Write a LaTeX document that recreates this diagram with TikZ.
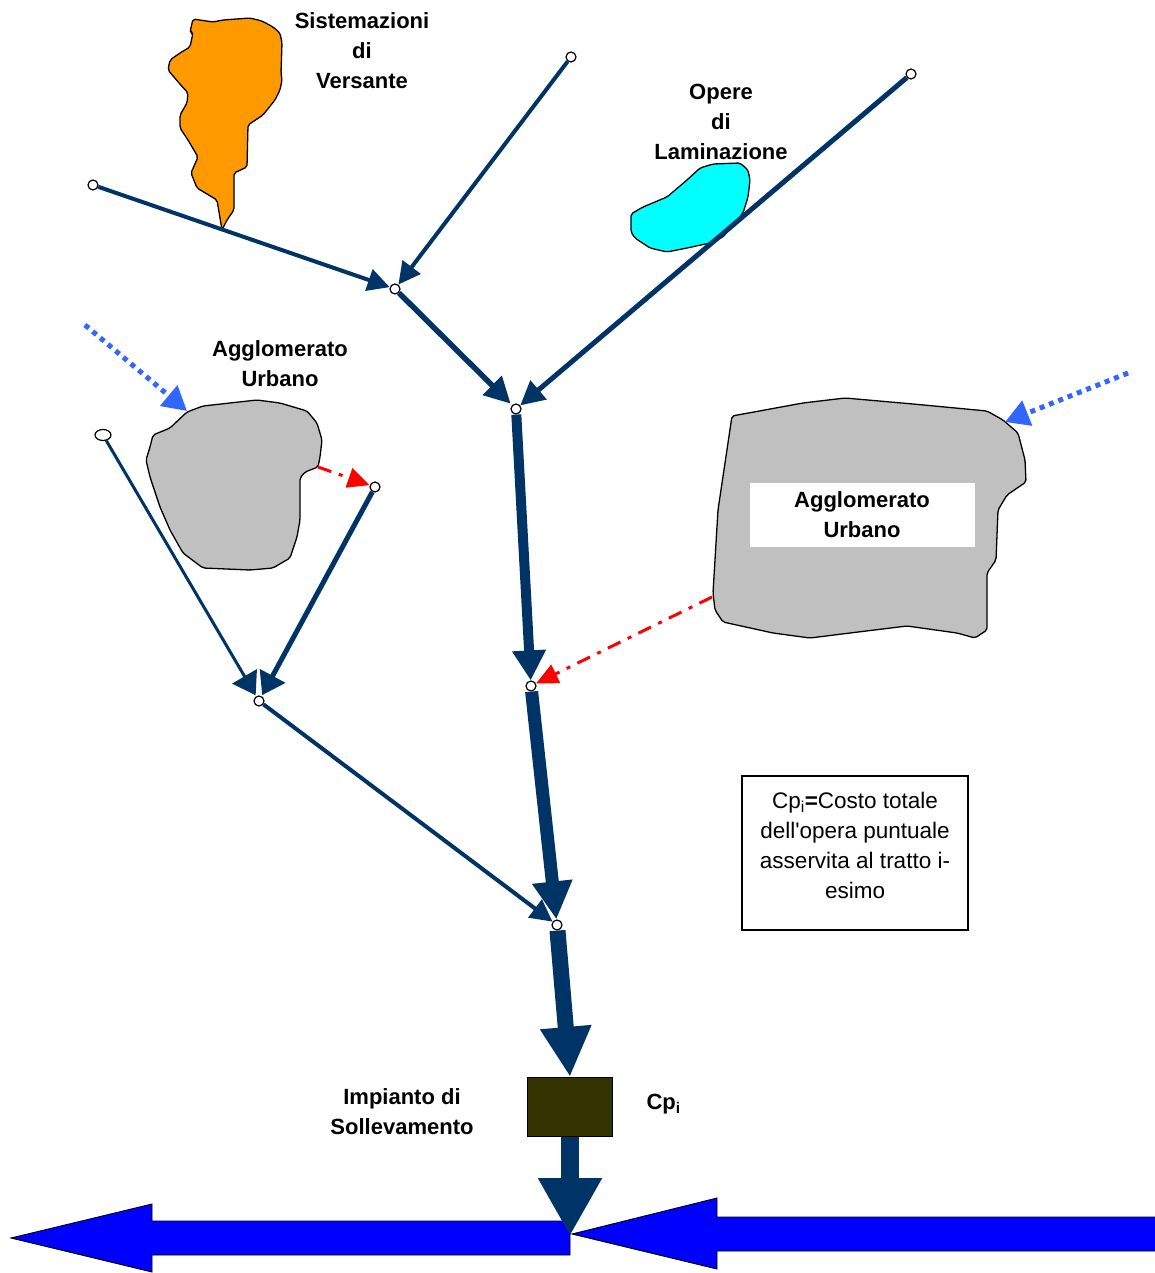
\documentclass[tikz,border=0pt]{standalone}
\usepackage{fontspec}
\setmainfont{Liberation Sans}
\usetikzlibrary{arrows.meta,shapes.geometric}
\definecolor{navy}{RGB}{0,51,102}
\definecolor{orangeF}{RGB}{255,153,0}
\definecolor{cyanF}{RGB}{0,255,255}
\definecolor{grayF}{RGB}{192,192,192}
\definecolor{pumpF}{RGB}{51,51,0}
\definecolor{dotblue}{RGB}{51,102,255}
\definecolor{riverblue}{RGB}{0,0,255}
\newcommand{\straightquote}{\XeTeXglyph\XeTeXcharglyph"0027\relax}
\begin{document}
\begin{tikzpicture}[x=1pt,y=-1pt,
  jn/.style={circle,draw=black,fill=white,line width=1.2pt,inner sep=0pt,minimum size=10pt},
  flow/.style={draw=navy,line width=#1},
  tipA/.style={-{Triangle[length=#1,width=#1]}},
  blob/.style={draw=black,line width=1.3pt,rounded corners=2pt},
  lbl/.style={font=\bfseries\fontsize{22}{30}\selectfont,align=center},
  txt/.style={font=\fontsize{22.5}{30}\selectfont,align=center},
  redline/.style={draw=red,line width=3pt,dash pattern=on 14pt off 8pt on 4pt off 8pt,-{Triangle[length=22pt,width=20pt]}},
  dotline/.style={draw=dotblue,line width=5pt,dash pattern=on 5pt off 5pt,-{Triangle[length=24pt,width=26pt]}},
  river/.style={draw=black,line width=0.9pt,fill=riverblue}
]
\useasboundingbox (0,0) rectangle (1154,1273);

% ---- shapes ----
% orange
\path[blob,fill=orangeF] (193,19) -- (213,22) -- (223,20) -- (250,18) -- (262,21) -- (273,27) -- (280,33) -- (282,43) -- (281,73) -- (282,80) -- (280,90) -- (275,100) -- (263,115) -- (248,125) -- (247,167) -- (234,173) -- (234,210) -- (227,220) -- (222,230) -- (217,200) -- (197,188) -- (191,173) -- (198,157) -- (188,140) -- (180,128) -- (180,115) -- (187,103) -- (188,93) -- (179,83) -- (168,70) -- (170,60) -- (180,53) -- (190,47) -- (193,33) -- (190,32) -- cycle;
% cyan
\path[blob,fill=cyanF] (631,214) -- (643,207) -- (667,197) -- (687,180) -- (700,168) -- (713,164) -- (740,163) -- (748,170) -- (750,180) -- (748,197) -- (743,213) -- (733,225) -- (723,237) -- (710,243) -- (687,248) -- (667,252) -- (650,248) -- (635,238) -- (631,232) -- cycle;
% left gray
\path[blob,fill=grayF] (153,435) -- (170,428) -- (187,412) -- (203,406) -- (230,403) -- (257,400) -- (280,403) -- (307,411) -- (317,423) -- (322,440) -- (320,457) -- (318,467) -- (305,472) -- (300,478) -- (300,520) -- (297,537) -- (290,558) -- (273,568) -- (250,570) -- (203,568) -- (183,553) -- (170,530) -- (160,507) -- (150,477) -- (146,460) -- (150,447) -- cycle;
% right gray
\path[blob,fill=grayF] (732,416) -- (803,403) -- (845,398) -- (913,404) -- (987,411) -- (1003,420) -- (1018,433) -- (1025,460) -- (1026,482) -- (1007,495) -- (998,510) -- (996,560) -- (987,573) -- (987,630) -- (975,638) -- (957,633) -- (907,626) -- (850,633) -- (810,638) -- (773,633) -- (723,622) -- (715,610) -- (713,593) -- (718,510) -- cycle;
\node[lbl,fill=white,minimum width=225pt,minimum height=64pt,inner sep=0pt] (au2) at (862,515) {Agglomerato\\Urbano};

% ---- labels ----
\node[lbl] (sv) at (362,51) {Sistemazioni\\di\\Versante};
\node[lbl] (ol) at (721,122) {Opere\\di\\Laminazione};
\node[lbl] (au1) at (280,364) {Agglomerato\\Urbano};
\node[lbl] (imp) at (402,1112) {Impianto di\\Sollevamento};
\node[lbl,anchor=west] (cp) at (643,1104) {Cp\textsubscript{i}};

% note box
\node[draw=black,line width=1.2pt,minimum width=226pt,minimum height=154pt,inner sep=0pt] (note) at (855,853) {};
\node[txt] (notetext) at (855,845) {Cp\textsubscript{i}\textbf{=}Costo totale\\dell\straightquote opera puntuale\\asservita al tratto i-\\esimo};

% ---- rivers (block arrows) ----
\path[river] (570,1221) -- (152,1221) -- (152,1204) -- (11,1238) -- (152,1272) -- (152,1255) -- (570,1255) -- cycle;
\path[river] (1160,1217) -- (717,1217) -- (717,1198) -- (572,1234) -- (717,1269) -- (717,1251) -- (1160,1251);

% ---- pump ----
\node[draw=black,line width=1.2pt,fill=pumpF,minimum width=85pt,minimum height=59pt,inner sep=0pt] (pump) at (570,1107) {};
\coordinate (out) at (570,1236);

% ---- junction nodes ----
\node[jn] (s1) at (93,185) {};
\node[jn] (s2) at (571,57) {};
\node[jn] (s3) at (911,74) {};
\node[jn] (j1) at (395,289) {};
\node[jn] (j2) at (516,409) {};
\node[jn,ellipse,minimum width=16pt,minimum height=11pt] (s4) at (103,435) {};
\node[jn] (s5) at (375,487) {};
\node[jn] (jl) at (259,701) {};
\node[jn] (j3) at (531,686) {};
\node[jn] (j4) at (557,925) {};

% ---- flows ----
\draw[flow=4pt,tipA=22pt] (s1) -- (j1);
\draw[flow=4pt,tipA=22pt] (s2) -- (j1);
\draw[flow=5.5pt,tipA=26pt,shorten >=2pt] (j1) -- (j2);
\draw[flow=5pt,tipA=24pt] (s3) -- (j2);
\draw[flow=10pt,-{Triangle[length=30pt,width=32pt]}] (j2) -- (j3);
\draw[flow=3pt,-{Triangle[length=22pt,width=28pt]},shorten >=1pt] (s4) -- (jl);
\draw[flow=5pt,-{Triangle[length=22pt,width=28pt]},shorten >=1pt] (s5) -- (jl);
\draw[flow=4pt,tipA=22pt] (jl) -- (j4);
\draw[flow=13pt,-{Triangle[length=38pt,width=38pt]}] (j3) -- (j4);
\draw[flow=16pt,-{Triangle[length=50pt,width=48pt]}] (j4) -- (pump.north);
\draw[flow=18pt,-{Triangle[length=58pt,width=60pt]}] (pump.south) -- (out);

% ---- red dash-dot ----
\coordinate (r1) at (318,467);
\coordinate (r2) at (712,597);
\draw[redline] (r1) -- (s5);
\draw[redline] (r2) -- (j3);

% ---- blue dotted ----
\coordinate (b1s) at (85,325);
\coordinate (b1e) at (187,411);
\coordinate (b2s) at (1128,373);
\coordinate (b2e) at (1005,422);
\draw[dotline] (b1s) -- (b1e);
\draw[dotline] (b2s) -- (b2e);
\end{tikzpicture}
\end{document}
